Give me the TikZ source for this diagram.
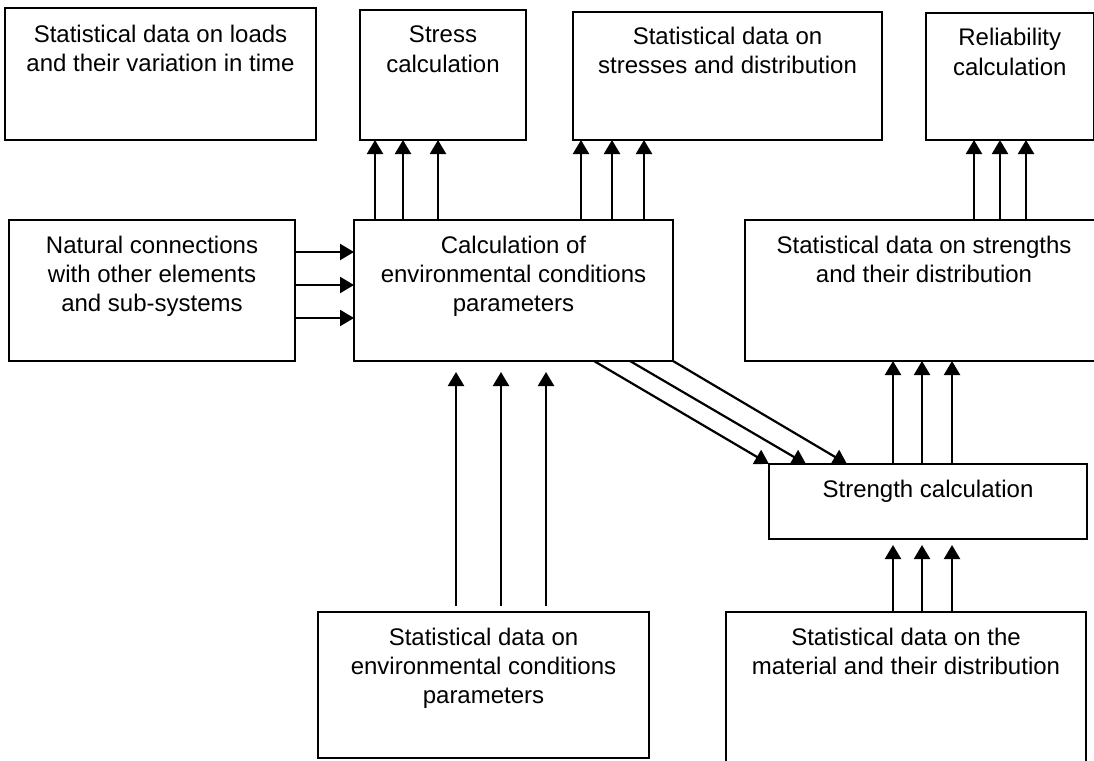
\documentclass[tikz,border=0pt]{standalone}
\usepackage{fontspec}
\setmainfont{Liberation Sans}
\usetikzlibrary{arrows.meta}
\newcommand{\mlines}[1]{\begin{tabular}[t]{@{}c@{}}#1\end{tabular}}
\begin{document}
\begin{tikzpicture}[x=1pt,y=-1pt,
  box/.style={draw, line width=1.4pt, inner sep=0pt, outer sep=0pt, rectangle},
  txt/.style={anchor=base, inner sep=0pt, outer sep=0pt, font=\fontsize{24}{29}\selectfont},
  arr/.style={line width=2.2pt, -{Triangle[length=14pt,width=16pt]}}]
\useasboundingbox (0,0) rectangle (1094,760);

% boxes
\node[box, minimum width=311pt, minimum height=132pt] (b1) at (160.5,74) {};
\node[box, minimum width=166pt, minimum height=130pt] (b2) at (443,75) {};
\node[box, minimum width=309pt, minimum height=128pt] (b3) at (727.5,76) {};
\node[box, minimum width=167.5pt, minimum height=127pt] (b4) at (1009.75,76.5) {};
\node[box, minimum width=286pt, minimum height=141pt] (b5) at (152,290.5) {};
\node[box, minimum width=319pt, minimum height=141pt] (b6) at (513.5,290.5) {};
\node[box, minimum width=358pt, minimum height=141pt] (b7) at (924,290.5) {};
\node[box, minimum width=318pt, minimum height=75pt] (b8) at (928,501.5) {};
\node[box, minimum width=331pt, minimum height=146pt] (b9) at (483.5,685) {};
\node[box, minimum width=360pt, minimum height=163pt] (b10) at (906,693.5) {};

% texts
\node[txt] (t1) at ([yshift=-34pt]b1.north) {\mlines{Statistical data on loads\\and their variation in time}};
\node[txt] (t2) at ([yshift=-33pt]b2.north) {\mlines{Stress\\calculation}};
\node[txt] (t3) at ([yshift=-33pt]b3.north) {\mlines{Statistical data on\\stresses and distribution}};
\node[txt] (t4) at ([yshift=-33pt]b4.north) {\mlines{Reliability\\calculation}};
\node[txt] (t5) at ([yshift=-33pt]b5.north) {\mlines{Natural connections\\with other elements\\and sub-systems}};
\node[txt] (t6) at ([yshift=-33pt]b6.north) {\mlines{Calculation of\\environmental conditions\\parameters}};
\node[txt] (t7) at ([yshift=-33pt]b7.north) {\mlines{Statistical data on strengths\\and their distribution}};
\node[txt] (t8) at ([yshift=-33pt]b8.north) {\mlines{Strength calculation}};
\node[txt] (t9) at ([yshift=-33pt]b9.north) {\mlines{Statistical data on\\environmental conditions\\parameters}};
\node[txt] (t10) at ([yshift=-33pt]b10.north) {\mlines{Statistical data on the\\material and their distribution}};

% calc -> stress calculation
\foreach \x in {375,403,438} \draw[arr] (\x,0 |- b6.north) -- (\x,0 |- b2.south);
% calc -> stresses distribution
\foreach \x in {581,612,644} \draw[arr] (\x,0 |- b6.north) -- (\x,0 |- b3.south);
% strengths -> reliability
\foreach \x in {974,1000,1026} \draw[arr] (\x,0 |- b7.north) -- (\x,0 |- b4.south);
% natural -> calc
\foreach \y in {252,285,318} \draw[arr] (b5.east |- 0,\y) -- (b6.west |- 0,\y);
% env stats -> calc
\foreach \x in {456,501,546} \draw[arr, shorten <=6pt, shorten >=11pt] (\x,0 |- b9.north) -- (\x,0 |- b6.south);
% calc -> strength calculation (diagonal)
\draw[arr] (594,0 |- b6.south) -- (769,0 |- b8.north);
\draw[arr] (630,0 |- b6.south) -- (806,0 |- b8.north);
\draw[arr] (b6.south east) -- (847,0 |- b8.north);
% strength calculation -> strengths
\foreach \x in {893,922,952} \draw[arr] (\x,0 |- b8.north) -- (\x,0 |- b7.south);
% material -> strength calculation
\foreach \x in {893,922,952} \draw[arr, shorten >=6pt] (\x,0 |- b10.north) -- (\x,0 |- b8.south);
\end{tikzpicture}
\end{document}
